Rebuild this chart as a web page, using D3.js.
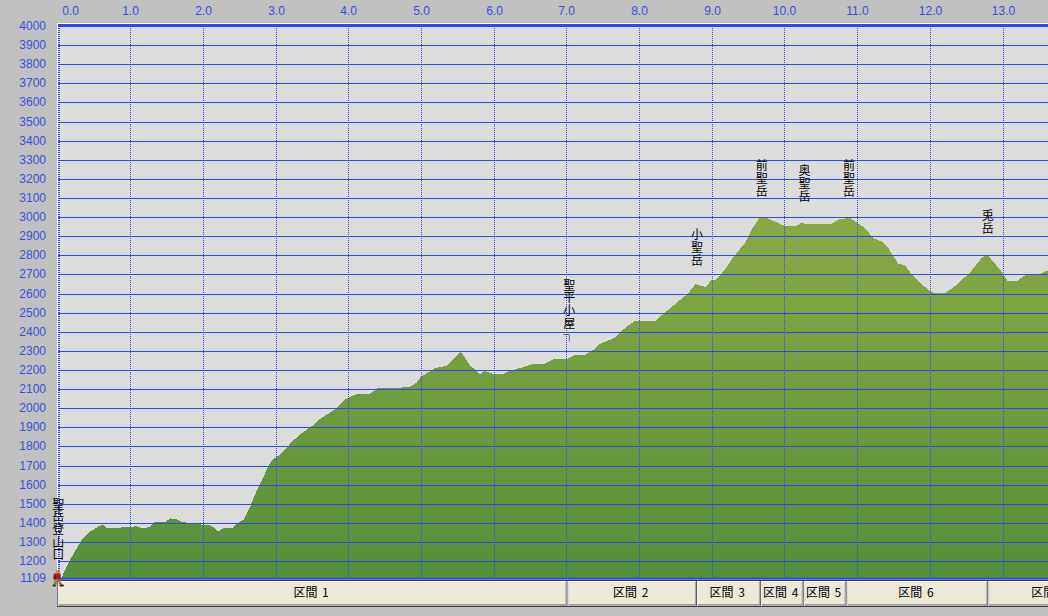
<!DOCTYPE html>
<html>
<head>
<meta charset="utf-8">
<script src="https://cdn.jsdelivr.net/npm/d3@7"></script>
<style>
html, body { margin: 0; padding: 0; background: #c0c0c0; overflow: hidden; }
svg { display: block; }
.axis text { font-family: "Liberation Sans", sans-serif; font-size: 12px; fill: #3a50d8; }
.axis .domain { display: none; }
.ytick line { stroke: #2c4be0; stroke-width: 1; }
.xtick line { stroke: #2c4bf0; stroke-width: 1; stroke-dasharray: 1 1; }
.peak { font-family: "Noto Sans CJK JP", sans-serif; font-size: 12px; fill: #000; writing-mode: vertical-rl; text-orientation: upright; letter-spacing: 0.7px; }
.sec { font-family: "Noto Sans CJK JP", sans-serif; font-size: 12px; fill: #000; word-spacing: 2px; }
</style>
</head>
<body>
<svg id="chart" width="1048" height="616"></svg>
<script>
// distance (km) and elevation (m)
const distance = [0,0.05,0.07,0.16,0.23,0.34,0.44,0.57,0.62,0.67,0.75,1.03,1.05,1.15,1.26,1.33,1.47,1.54,1.62,1.70,1.88,2.11,2.20,2.28,2.40,2.47,2.55,2.64,2.74,2.82,2.89,2.95,3.01,3.09,3.21,3.32,3.43,3.53,3.60,3.80,3.94,4.01,4.12,4.29,4.40,4.66,4.84,4.93,4.99,5.11,5.18,5.34,5.54,5.66,5.80,5.87,5.98,6.12,6.21,6.35,6.53,6.69,6.83,7.00,7.11,7.25,7.38,7.45,7.66,7.80,7.93,8.21,8.44,8.66,8.77,8.91,8.99,9.05,9.17,9.28,9.45,9.54,9.65,9.75,9.93,10.00,10.16,10.22,10.27,10.64,10.75,10.89,10.99,11.10,11.21,11.33,11.41,11.56,11.65,11.75,11.86,11.99,12.04,12.20,12.33,12.54,12.72,12.80,12.99,13.06,13.20,13.32,13.50,13.61,13.77]
const elevation = [1109,1110,1135,1205,1250,1320,1354,1385,1389,1374,1374,1378,1385,1372,1378,1405,1405,1423,1420,1405,1395,1385,1355,1375,1375,1399,1417,1485,1575,1637,1695,1732,1745,1770,1822,1860,1890,1917,1943,1991,2043,2059,2075,2075,2105,2105,2113,2133,2165,2191,2210,2222,2296,2226,2179,2195,2179,2179,2195,2210,2231,2231,2258,2258,2279,2279,2310,2336,2368,2420,2456,2456,2530,2598,2649,2634,2671,2672,2723,2786,2865,2933,2996,2996,2964,2954,2954,2970,2965,2965,2989,2996,2971,2943,2891,2872,2845,2755,2750,2697,2655,2615,2603,2603,2636,2708,2793,2796,2710,2667,2668,2700,2700,2720,2720]

const xTicks = [0,1,2,3,4,5,6,7,8,9,10,11,12,13]
const yTicks = [1109,1200,1300,1400,1500,1600,1700,1800,1900,2000,2100,2200,2300,2400,2500,2600,2700,2800,2900,3000,3100,3200,3300,3400,3500,3600,3700,3800,3900,4000]

const peakNames = ["聖岳登山口","聖平小屋┐","小聖岳","前聖岳","奥聖岳","前聖岳","兎岳"]
const peakKm = [0,7.03,8.79,9.68,10.27,10.88,12.79]
const peakAnchor = [1109,2255,2650,3012,2986,3012,2817]

const sectionNames = ["区間 1","区間 2","区間 3","区間 4","区間 5","区間 6","区間 7"]
const sectionEnds = [7.0,8.78,9.66,10.25,10.84,12.79,14.5]

const svg = d3.select("#chart")
const x = d3.scaleLinear().domain([0,13]).range([57.69,1002.53])
const y = d3.scaleLinear().domain([1109,4000]).range([578.47,26])
// grid lines snap to whole pixels
const xGrid = x.copy().interpolate(d3.interpolateRound)
const yGrid = y.copy().interpolate(d3.interpolateRound)
const plotRight = 1048

// plot background and white frame
svg.append("rect").attr("x",57).attr("y",23).attr("width",plotRight-57).attr("height",556).attr("fill","#fff")
svg.append("rect").attr("x",58).attr("y",24).attr("width",plotRight-58).attr("height",555).attr("fill","#dcdcdc")

const defs = svg.append("defs")
const grad = defs.append("linearGradient").attr("id","fillGrad")
  .attr("gradientUnits","userSpaceOnUse")
  .attr("x1",0).attr("x2",0).attr("y1",y(3000)).attr("y2",y(1109))
grad.append("stop").attr("offset",0).attr("stop-color","#8aa945")
grad.append("stop").attr("offset",1).attr("stop-color","#558f3a")

const area = d3.area()
  .x((d,i) => x(distance[i]) + 0.5)
  .y0(y(1109))
  .y1(d => y(d))

svg.append("path")
  .datum(elevation)
  .attr("d",area)
  .attr("fill","url(#fillGrad)")
  .attr("shape-rendering","crispEdges")

// grid and labels come from the axes
const yAxis = d3.axisLeft(yGrid).tickValues(yTicks).tickFormat(d3.format("d"))
  .tickSize(-(plotRight-58)).tickPadding(12)
const xAxis = d3.axisTop(xGrid).tickValues(xTicks).tickFormat(d3.format(".1f"))
  .tickSize(-(yGrid(1109)-yGrid(4000))).tickPadding(11)

svg.append("g").attr("class","axis ytick").attr("transform","translate(58,0)").call(yAxis)
  .selectAll("line").attr("shape-rendering","crispEdges")
const xg = svg.append("g").attr("class","axis xtick").attr("transform","translate(0,"+yGrid(4000)+")").call(xAxis)
xg.selectAll("line").attr("shape-rendering","crispEdges")
// first label sits to the right of the axis start
xg.selectAll("text").filter(d => d === 0).attr("dx",12)

// heavier lines at top, bottom and start
svg.append("rect").attr("x",58).attr("y",24).attr("width",plotRight-58).attr("height",2.4).attr("fill","#3448e8")
svg.append("rect").attr("x",58).attr("y",577.6).attr("width",plotRight-58).attr("height",2).attr("fill","#3448e8")
svg.append("line").attr("x1",59).attr("x2",59).attr("y1",26).attr("y2",578)
  .attr("stroke","#3448e8").attr("stroke-width",2).attr("stroke-dasharray","1 1")

// section bar
svg.append("rect").attr("x",57).attr("y",580).attr("width",plotRight-57).attr("height",27).attr("fill","#3c3f55")
const secStart = sectionEnds.map((d,i) => i ? x(sectionEnds[i-1]) + 1 : x(0))
const sec = svg.selectAll("g.secbtn").data(sectionNames).join("g").attr("class","secbtn")
sec.append("rect").attr("x",(d,i) => secStart[i]).attr("y",581)
  .attr("width",(d,i) => x(sectionEnds[i]) - secStart[i]).attr("height",25).attr("fill","#fff")
sec.append("rect").attr("x",(d,i) => secStart[i]+1).attr("y",582)
  .attr("width",(d,i) => x(sectionEnds[i]) - secStart[i] - 1).attr("height",24).attr("fill","#a8a493")
sec.append("rect").attr("x",(d,i) => secStart[i]+1).attr("y",582)
  .attr("width",(d,i) => x(sectionEnds[i]) - secStart[i] - 2).attr("height",22).attr("fill","#ece9d8")
sec.append("text").attr("class","sec")
  .attr("x",(d,i) => (secStart[i]+x(sectionEnds[i]))/2 - 1).attr("y",597)
  .attr("text-anchor","middle").text(d => d)

// vertical place names, written top to bottom and ending above the anchor
svg.selectAll("text.peak").data(peakNames).join("text").attr("class","peak")
  .attr("x",(d,i) => x(peakKm[i]) + 0.5)
  .attr("y",(d,i) => y(peakAnchor[i]) - 17 - Array.from(d).length*12.7)
  .text(d => d)

// hiker marker at the start
const hiker = svg.append("g").attr("transform","translate("+x(0)+","+y(1109)+")")
const hikerParts = [
  ["#e8761c",-2,-8,4,3],["#a01c28",-4,-5,7,6],["#5a1418",-4,-3,2,4],
  ["#8d7348",-3,1,6,3],["#8d7348",-4,4,3,2],["#8d7348",1,4,3,2],
  ["#2a2018",-5,6,3,2],["#2a2018",2,6,4,2]
]
hiker.selectAll("rect").data(hikerParts).join("rect")
  .attr("fill",d => d[0]).attr("x",d => d[1]).attr("y",d => d[2])
  .attr("width",d => d[3]).attr("height",d => d[4])
</script>
</body>
</html>
